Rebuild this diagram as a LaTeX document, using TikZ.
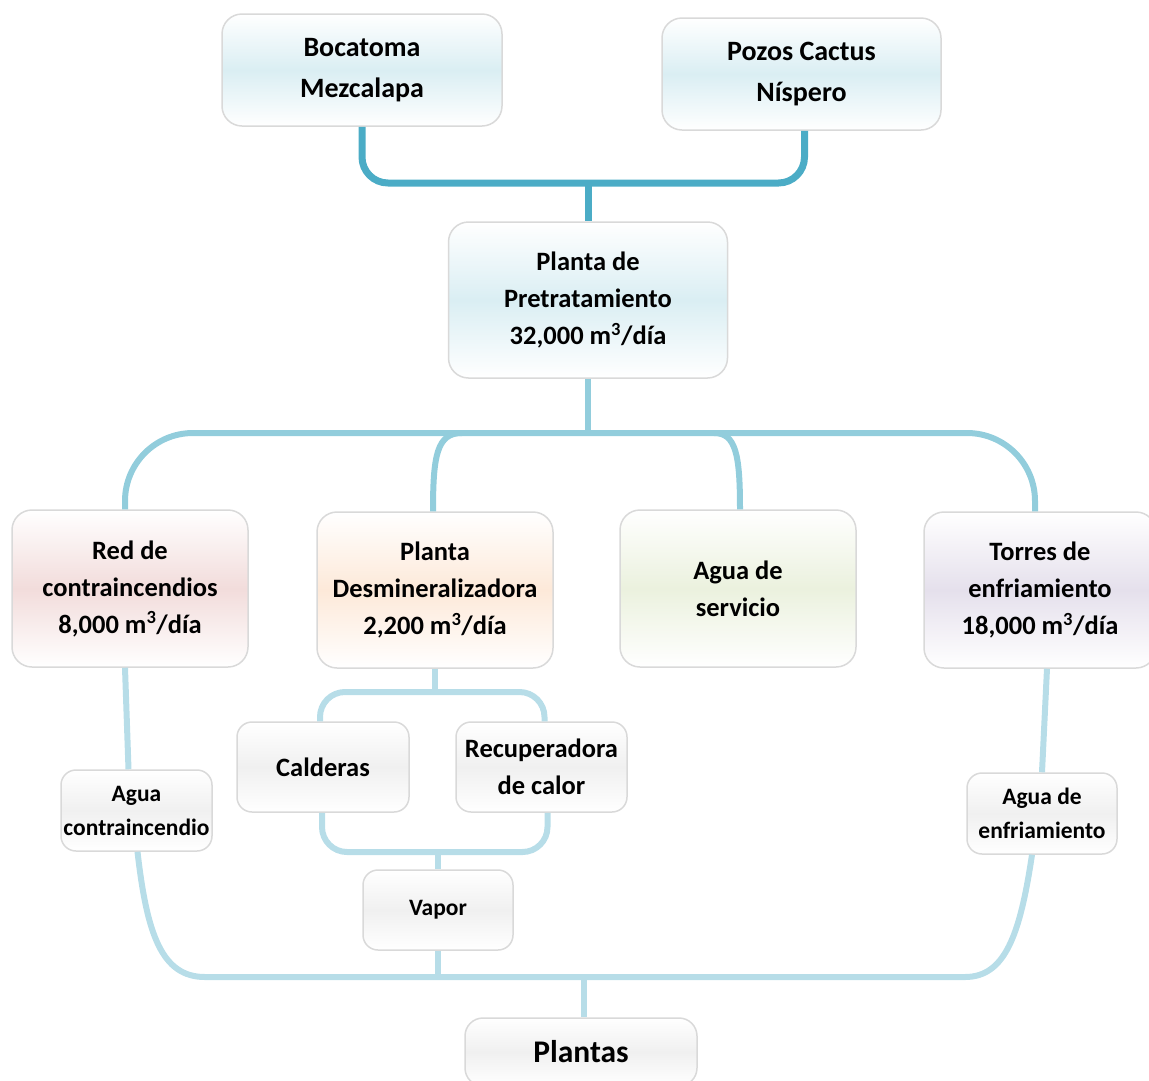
\documentclass[tikz,border=0pt]{standalone}
\usepackage{fontspec}
\setmainfont{Carlito}
\usetikzlibrary{calc}
\definecolor{ctop}{HTML}{4BACC6}
\definecolor{cmid}{HTML}{92CDDC}
\definecolor{clow}{HTML}{B7DDE8}
\definecolor{cborder}{HTML}{D9D9D9}
\definecolor{fblue}{HTML}{DAEEF3}
\definecolor{fpink}{HTML}{F2DCDB}
\definecolor{fpeach}{HTML}{FDE9D9}
\definecolor{fgreen}{HTML}{EBF1DE}
\definecolor{flav}{HTML}{E5E0EC}
\definecolor{fgray}{HTML}{F0F0F0}
\begin{document}
\begin{tikzpicture}[x=1pt,y=-1pt,
  boxbase/.style={draw=cborder, line width=1.5pt, align=center, inner sep=0pt,
    top color=white, bottom color=white},
  bigbox/.style={boxbase, rounded corners=20pt,
    font=\fontsize{26.5}{37}\selectfont\bfseries},
  smallbox/.style={boxbase, rounded corners=15pt, middle color=fgray,
    font=\fontsize{23.5}{34}\selectfont\bfseries},
  conntop/.style={draw=ctop, line width=7pt},
  connmid/.style={draw=cmid, line width=6pt},
  connlow/.style={draw=clow, line width=6pt}]
\useasboundingbox (0,0) rectangle (1149,1080);
\clip (0,0) rectangle (1149,1080);

% nodes
\node[bigbox, middle color=fblue, minimum width=280pt, minimum height=112pt,
  font=\fontsize{28}{41}\selectfont\bfseries] (boc) at (362,70) {Bocatoma\\Mezcalapa};
\node[bigbox, middle color=fblue, minimum width=279pt, minimum height=112pt,
  font=\fontsize{28}{41}\selectfont\bfseries] (poz) at (801.5,74) {Pozos Cactus\\Níspero};
\node[bigbox, middle color=fblue, minimum width=279pt, minimum height=156pt] (pre) at (588,300)
  {Planta de\\Pretratamiento\\32,000 m\textsuperscript{3}/día};
\node[bigbox, middle color=fpink, minimum width=236pt, minimum height=157pt] (red) at (130,588.5)
  {Red de\\contraincendios\\8,000 m\textsuperscript{3}/día};
\node[bigbox, middle color=fpeach, minimum width=236pt, minimum height=156pt] (des) at (435,590)
  {Planta\\Desmineralizadora\\2,200 m\textsuperscript{3}/día};
\node[bigbox, middle color=fgreen, minimum width=236pt, minimum height=157pt] (ser) at (738,588.5)
  {Agua de\\servicio};
\node[bigbox, middle color=flav, minimum width=232pt, minimum height=156pt] (tor) at (1040,590)
  {Torres de\\enfriamiento\\18,000 m\textsuperscript{3}/día};
\node[smallbox, minimum width=172pt, minimum height=90pt,
  font=\fontsize{26.5}{37}\selectfont\bfseries] (cal) at (323,767) {Calderas};
\node[smallbox, minimum width=171pt, minimum height=90pt,
  font=\fontsize{26.5}{37}\selectfont\bfseries] (rec) at (541.5,767) {Recuperadora\\de calor};
\node[smallbox, minimum width=150pt, minimum height=80pt] (vap) at (438,910) {Vapor};
\node[smallbox, minimum width=151pt, minimum height=81pt] (aci) at (136.5,810.5)
  {Agua\\contraincendio};
\node[smallbox, minimum width=150pt, minimum height=81pt] (aen) at (1042,813.5)
  {Agua de\\enfriamiento};
\node[smallbox, rounded corners=18pt, minimum width=232pt, minimum height=68pt,
  font=\fontsize{31.5}{40}\selectfont\bfseries] (pla) at (581,1052) {Plantas};

% junction coordinates
\coordinate (jtop) at (588,183);
\coordinate (jmid) at (588,433);
\coordinate (jdl) at (462,433);
\coordinate (jsr) at (714,433);
\coordinate (jdes) at (435,692);
\coordinate (jvap) at (438,852);
\coordinate (jbot) at (438,977);
\coordinate (jpl) at (584,977);
\coordinate (jbl) at (205,977);
\coordinate (jbr) at (965,977);

% top connectors
\draw[conntop, rounded corners=26pt] (boc.south) |- (jtop) -| ($(poz.south)+(3,0)$);
\draw[conntop] (jtop) -- (jtop |- pre.north);

% middle connectors
\draw[connmid] (pre.south) -- (jmid);
\draw[connmid, rounded corners=68pt] ($(red.north)+(-5,0)$) |- (jmid) -| ($(tor.north)+(-5,0)$);
\draw[connmid] ($(des.north)+(-2,0)$) .. controls (433,455) and (437,433) .. (jdl);
\draw[connmid] ($(ser.north)+(2,0)$) .. controls (740,455) and (736,433) .. (jsr);

% lower connectors
\draw[connlow] ($(red.south)+(-5,0)$) -- ($(aci.north)+(-8,0)$);
\draw[connlow] ($(tor.south)+(7,0)$) -- (aen.north);
\draw[connlow] ($(aci.south)+(1,0)$) .. controls (147,935) and (162,977) .. (jbl)
  -- (jbr) .. controls (1005,977) and (1020,935) .. ($(aen.south)+(-10,0)$);
\draw[connlow] (des.south) -- (jdes);
\draw[connlow, rounded corners=25pt] ($(cal.north)+(-3,0)$) |- (jdes) -| ($(rec.north)+(3,0)$);
\draw[connlow, rounded corners=25pt] ($(cal.south)+(-1,0)$) |- (jvap) -| ($(rec.south)+(6,0)$);
\draw[connlow] (jvap) -- (vap.north);
\draw[connlow] (vap.south) -- (jbot);
\draw[connlow] (jpl) -- (jpl |- pla.north);
\end{tikzpicture}
\end{document}
